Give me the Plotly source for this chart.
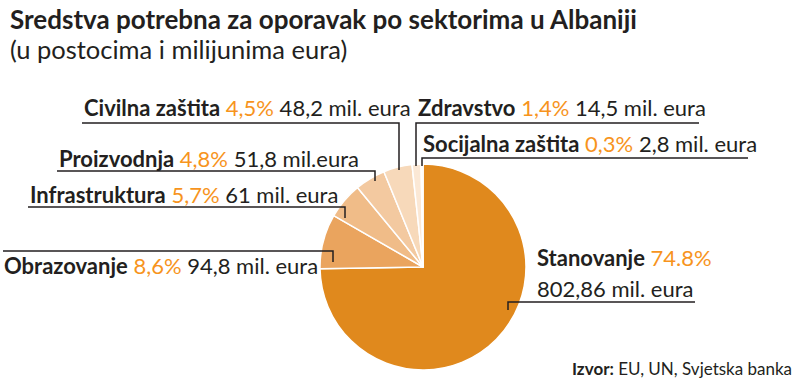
import plotly.graph_objects as go

# Data
sectors = ["Stanovanje", "Obrazovanje", "Infrastruktura", "Proizvodnja",
           "Civilna zaštita", "Zdravstvo", "Socijalna zaštita"]
percent = [74.8, 8.6, 5.7, 4.8, 4.5, 1.4, 0.3]
pct_labels = ["74.8%", "8,6%", "5,7%", "4,8%", "4,5%", "1,4%", "0,3%"]
amount_labels = ["802,86 mil. eura", "94,8 mil. eura", "61 mil. eura", "51,8 mil.eura",
                 "48,2 mil. eura", "14,5 mil. eura", "2,8 mil. eura"]
colors = ["#E0891D", "#EAA45E", "#F0BC88", "#F3C9A0", "#F7D9BA", "#FBE8D5", "#FDF2E6"]

W, H = 800, 382
FONT = "Lato, Roboto, sans-serif"
DARK = "#231F20"
ORANGE = "#F7941D"
LSIZE = 22

def px(x):
    return x / W

def py(y):
    return 1 - y / H

fig = go.Figure(go.Pie(
    labels=sectors, values=percent, sort=False, direction="clockwise", rotation=0,
    marker=dict(colors=colors, line=dict(color="white", width=1.5)),
    textinfo="none", hoverinfo="label+percent",
    domain=dict(x=[px(320), px(526)], y=[py(370), py(164)]),
    showlegend=False,
))

# label positions (pixel space): (text x, text y center, line path points)
label_layout = {
    "Civilna zaštita": (82, 108, [(82, 123), (399, 123), (399, 170)]),
    "Proizvodnja": (57, 158, [(57, 171), (375, 171), (375, 181)]),
    "Infrastruktura": (28, 194, [(28, 207), (345, 207), (345, 218)]),
    "Obrazovanje": (2, 265, [(3, 251), (333, 251), (333, 262)]),
    "Zdravstvo": (416, 107, [(699, 123), (416, 123), (416, 166)]),
    "Socijalna zaštita": (421, 143, [(748, 158), (422, 158), (422, 166)]),
}

shapes = []
annotations = []
for i, name in enumerate(sectors):
    if name in label_layout:
        tx, ty, pts = label_layout[name]
        text = (f"<b>{name}</b> <span style='color:{ORANGE}'>{pct_labels[i]}</span> "
                f"{amount_labels[i]}")
        annotations.append(dict(x=px(tx), y=py(ty), xref="paper", yref="paper",
                                xanchor="left", yanchor="middle", showarrow=False,
                                text=text, font=dict(family=FONT, size=LSIZE, color=DARK)))
        path = "M " + " L ".join(f"{px(a)},{py(b)}" for a, b in pts)
        shapes.append(dict(type="path", path=path, xref="paper", yref="paper",
                           line=dict(color=DARK, width=1.5)))
    else:
        annotations.append(dict(x=px(535), y=py(257), xref="paper", yref="paper",
                                xanchor="left", yanchor="middle", showarrow=False,
                                text=f"<b>{name}</b> <span style='color:{ORANGE}'>{pct_labels[i]}</span>",
                                font=dict(family=FONT, size=LSIZE, color=DARK)))
        annotations.append(dict(x=px(535), y=py(288), xref="paper", yref="paper",
                                xanchor="left", yanchor="middle", showarrow=False,
                                text=amount_labels[i],
                                font=dict(family=FONT, size=LSIZE, color=DARK)))
        pts = [(508, 310), (508, 302), (695, 302)]
        path = "M " + " L ".join(f"{px(a)},{py(b)}" for a, b in pts)
        shapes.append(dict(type="path", path=path, xref="paper", yref="paper",
                           line=dict(color=DARK, width=1.5)))

# Title, subtitle, source
annotations.append(dict(x=px(8), y=py(19), xref="paper", yref="paper", xanchor="left",
                        yanchor="middle", showarrow=False,
                        text="<b>Sredstva potrebna za oporavak po sektorima u Albaniji</b>",
                        font=dict(family=FONT, size=26, color=DARK)))
annotations.append(dict(x=px(8), y=py(49), xref="paper", yref="paper", xanchor="left",
                        yanchor="middle", showarrow=False,
                        text="(u postocima i milijunima eura)",
                        font=dict(family=FONT, size=25.5, color=DARK)))
annotations.append(dict(x=px(794), y=py(368), xref="paper", yref="paper", xanchor="right",
                        yanchor="middle", showarrow=False,
                        text="<b>Izvor:</b> EU, UN, Svjetska banka",
                        font=dict(family=FONT, size=17, color=DARK)))

fig.update_layout(width=W, height=H, margin=dict(l=0, r=0, t=0, b=0),
                  paper_bgcolor="white", plot_bgcolor="white",
                  shapes=shapes, annotations=annotations)

fig.write_html("out.html", config={"displayModeBar": False},
               post_script="document.body.style.margin='0';document.body.style.overflow='hidden';")
